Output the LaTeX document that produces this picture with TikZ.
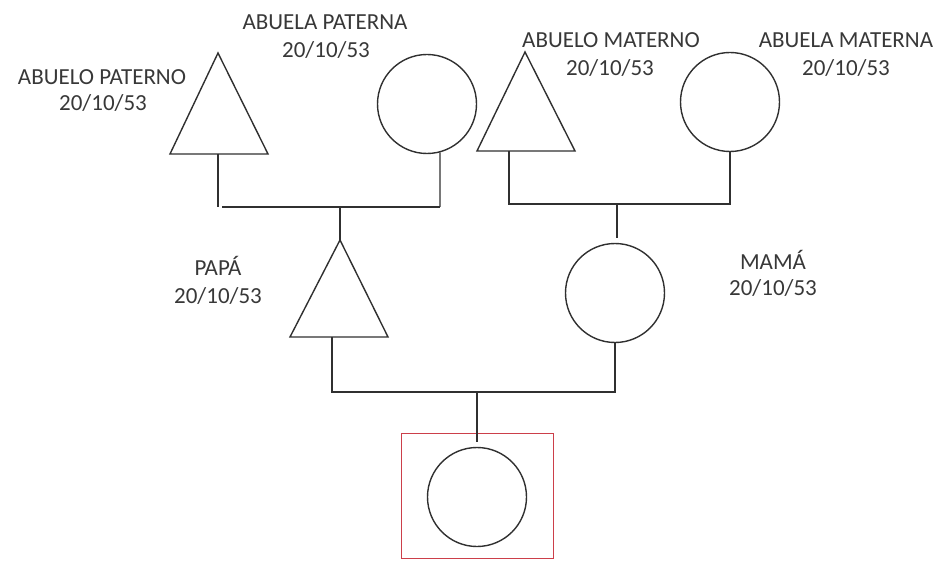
\documentclass[tikz,border=0pt]{standalone}
\usepackage{fontspec}
\setmainfont{Carlito}
\definecolor{ln}{HTML}{303030}
\definecolor{tx}{HTML}{383838}
\definecolor{rd}{HTML}{CC3F4A}
\begin{document}
\begin{tikzpicture}[x=1pt,y=-1pt,
  shp/.style={draw=ln,line width=1.4pt},
  conn/.style={draw=ln,line width=1.4pt},
  circ/.style={shp,circle,inner sep=0pt,minimum size=99pt},
  lbl/.style={text=tx,font=\fontsize{23}{27}\selectfont,inner sep=0pt,text height=14.8pt,text depth=0pt,anchor=center}]
\useasboundingbox (0,0) rectangle (947,561);
% shapes
\draw[shp] (218,53) -- (268,154) -- (170,154) -- cycle;
\coordinate (apt) at (218,154);
\node[circ] (apc) at (427,104) {};
\draw[shp] (525,52) -- (575,151) -- (477,151) -- cycle;
\coordinate (amt) at (509,151);
\node[circ] (amc) at (730,102) {};
\draw[shp] (340,240) -- (388,337) -- (290,337) -- cycle;
\coordinate (papa) at (340,240);
\coordinate (papab) at (332,337);
\node[circ] (mama) at (615,293) {};
\draw[draw=rd,line width=1.7pt] (401.5,433.5) rectangle (553.5,558.5);
\node[circ] (yo) at (477,497) {};
% junction coordinates
\coordinate (pj1) at (218,207);
\coordinate (pj1b) at (222,207);
\coordinate (pj2) at (440,207);
\coordinate (pjm) at (340,207);
\coordinate (mj1) at (509,204);
\coordinate (mj2) at (730,204);
\coordinate (mjm) at (617,204);
\coordinate (mdrop) at (617,238);
\coordinate (cj1) at (332,392);
\coordinate (cj2) at (615,392);
\coordinate (cjm) at (477,392);
\coordinate (cdrop) at (477,442);
% connectors
\draw[conn] (apt) -- (pj1);
\draw[conn] (pj1b) -- (pj2);
\draw[conn] (apc.-75) -- (pj2);
\draw[conn] (pjm) -- (papa);
\draw[conn] (amt) -- (mj1) -- (mj2) -- (amc.south);
\draw[conn] (mjm) -- (mdrop);
\draw[conn] (papab) -- (cj1) -- (cj2) -- (mama.south);
\draw[conn] (cjm) -- (cdrop);
% labels
\node[lbl] (l1a) at (102,77) {ABUELO PATERNO};
\node[lbl] (l1b) at (103,103) {20/10/53};
\node[lbl] (l2a) at (325,22) {ABUELA PATERNA};
\node[lbl] (l2b) at (326,50) {20/10/53};
\node[lbl] (l3a) at (611,40) {ABUELO MATERNO};
\node[lbl] (l3b) at (610,68) {20/10/53};
\node[lbl] (l4a) at (846,40) {ABUELA MATERNA};
\node[lbl] (l4b) at (846,68) {20/10/53};
\node[lbl] (l5a) at (218,268) {PAPÁ};
\node[lbl] (l5b) at (218,296) {20/10/53};
\node[lbl] (l6a) at (773,262) {MAMÁ};
\node[lbl] (l6b) at (773,288) {20/10/53};
\end{tikzpicture}
\end{document}
